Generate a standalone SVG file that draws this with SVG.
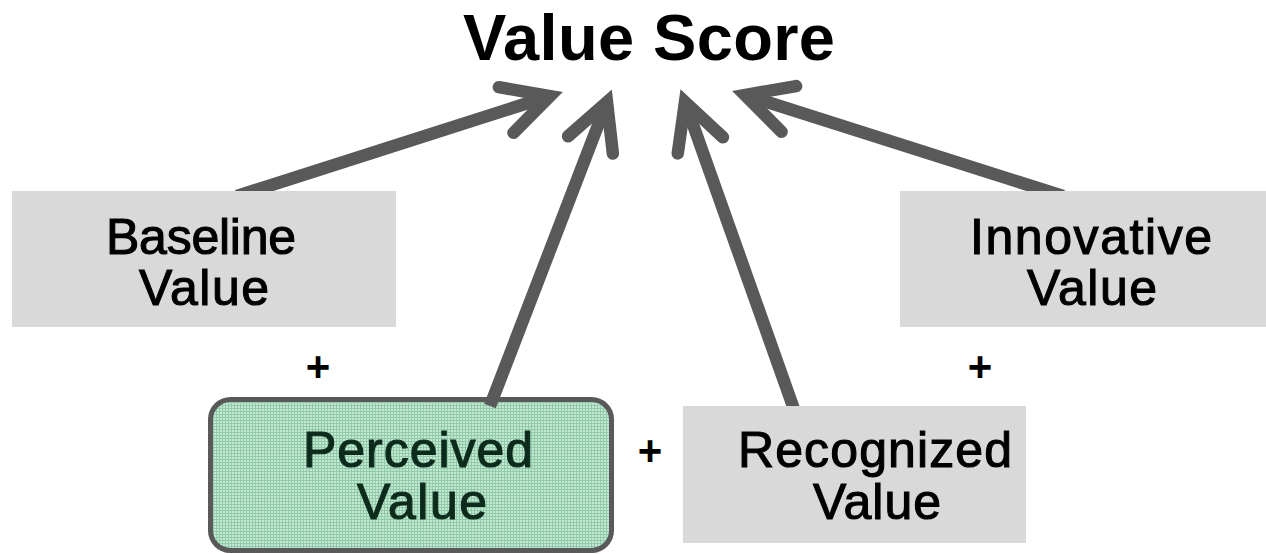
<svg xmlns="http://www.w3.org/2000/svg" width="1266" height="554" viewBox="0 0 1266 554">
<style>
.box{fill:#d9d9d9}
.lbl{font-family:"Liberation Sans",Arial,sans-serif;font-size:50px;text-anchor:middle;fill:#000;stroke:#000;stroke-width:1.1}
.plus{font-family:"Liberation Sans",Arial,sans-serif;font-size:42px;font-weight:bold;text-anchor:middle;fill:#000}
.conn{fill:none;stroke:#595959;stroke-width:12.5;marker-end:url(#ah)}
</style>
<defs>
<pattern id="grid" width="3" height="3" patternUnits="userSpaceOnUse">
<rect width="3" height="3" fill="#c5e7d4"/>
<rect width="3" height="1" fill="#8fcaa9"/>
<rect width="1" height="3" fill="#8fcaa9"/>
</pattern>
<marker id="ah" markerUnits="userSpaceOnUse" orient="auto" refX="0" refY="0" markerWidth="1" markerHeight="1" overflow="visible">
<path d="M -46 -24 L 0 0 L -46 24" fill="none" stroke="#595959" stroke-width="12.5" stroke-linecap="round" stroke-linejoin="miter" stroke-miterlimit="10"/>
</marker>
</defs>
<rect width="1266" height="554" fill="#fff"/>
<g id="title">
<text x="649" y="60" font-family="Liberation Sans, Arial, sans-serif" font-size="65" font-weight="bold" text-anchor="middle" textLength="372">Value Score</text>
</g>
<g id="perceived">
<rect x="210.5" y="399.5" width="401" height="151" rx="20" fill="url(#grid)" stroke="#595959" stroke-width="5"/>
<text class="lbl" x="418" y="467" textLength="230" style="fill:#0d2b1c;stroke:#0d2b1c">Perceived</text>
<text class="lbl" x="422" y="519" textLength="130" style="fill:#0d2b1c;stroke:#0d2b1c">Value</text>
</g>
<g id="connectors">
<line class="conn" x1="237" y1="196" x2="550" y2="96"/>
<line class="conn" x1="490" y1="406" x2="607" y2="102"/>
<line class="conn" x1="795" y1="412" x2="685" y2="102"/>
<line class="conn" x1="1063" y1="196" x2="745" y2="95"/>
</g>
<g id="baseline">
<rect class="box" x="12" y="191" width="384" height="136"/>
<text class="lbl" x="201" y="254" textLength="190">Baseline</text>
<text class="lbl" x="204" y="305" textLength="130">Value</text>
</g>
<g id="innovative">
<rect class="box" x="900" y="191" width="366" height="136"/>
<text class="lbl" x="1091" y="254" textLength="242">Innovative</text>
<text class="lbl" x="1092" y="305" textLength="130">Value</text>
</g>
<g id="recognized">
<rect class="box" x="683" y="406" width="343" height="137"/>
<text class="lbl" x="875" y="467" textLength="274">Recognized</text>
<text class="lbl" x="877" y="519" textLength="128">Value</text>
</g>
<g id="plus-signs">
<text class="plus" x="318" y="381">+</text>
<text class="plus" x="650" y="465">+</text>
<text class="plus" x="980" y="381">+</text>
</g>
</svg>
